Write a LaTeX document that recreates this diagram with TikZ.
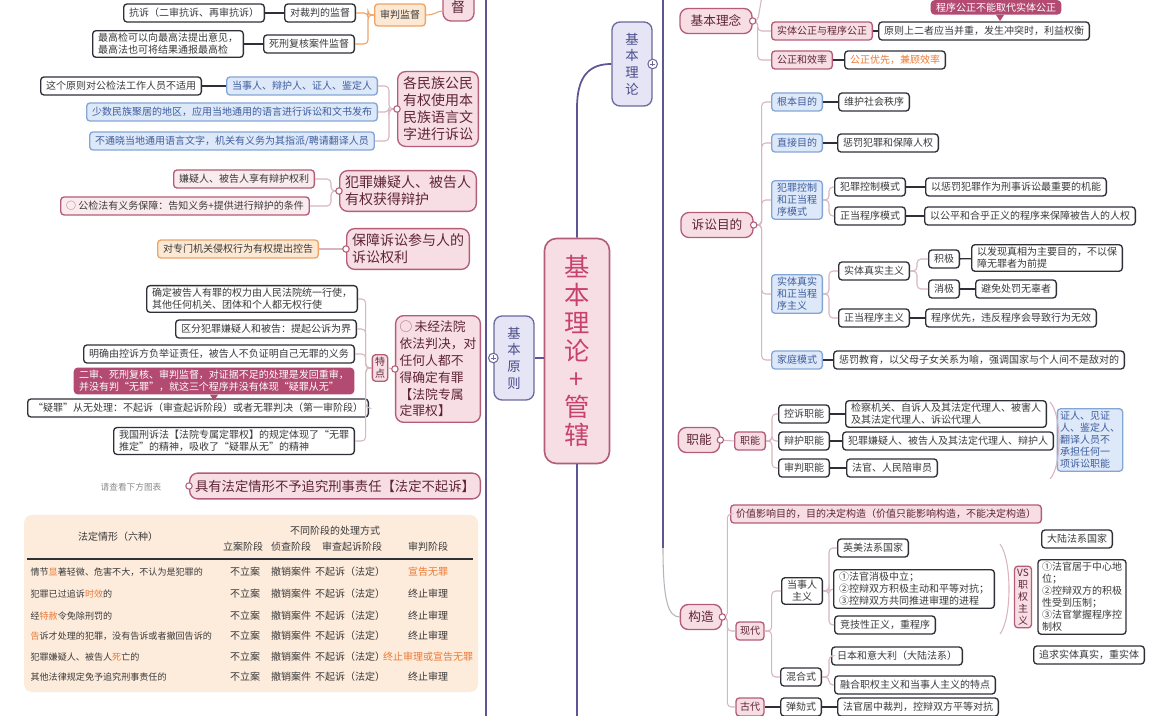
\documentclass[tikz,border=0pt]{standalone}
\usepackage{fontspec}
\setmainfont{Noto Sans CJK SC}
\usetikzlibrary{positioning,calc}
\XeTeXlinebreaklocale "zh"

\definecolor{framecol}{HTML}{5C5794}
\definecolor{pinkfill}{HTML}{F7DEE4}
\definecolor{pinkline}{HTML}{B45C78}
\definecolor{pinktext}{HTML}{5E2436}
\definecolor{roottext}{HTML}{C7426C}
\definecolor{leafline}{HTML}{2F2F38}
\definecolor{leaftext}{HTML}{3A3A3A}
\definecolor{bluefill}{HTML}{DDE8F8}
\definecolor{blueline}{HTML}{84A6D6}
\definecolor{bluetext}{HTML}{3F5E9E}
\definecolor{orfill}{HTML}{FDE8D3}
\definecolor{orline}{HTML}{EFA466}
\definecolor{ortext}{HTML}{EB7A34}
\definecolor{purfill}{HTML}{E5E5F5}
\definecolor{purline}{HTML}{6A6A9C}
\definecolor{purtext}{HTML}{4B4B8C}
\definecolor{magfill}{HTML}{B24A71}
\definecolor{linkcol}{HTML}{D8B6C0}
\definecolor{greycol}{HTML}{B4B4BC}
\definecolor{tabfill}{HTML}{FDEBDC}
\definecolor{notecol}{HTML}{8A8A8A}

\newcommand{\smallfs}{\fontsize{7.5}{9}\selectfont}
\newcommand{\bigfs}{\fontsize{10.5}{12.8}\selectfont}
\newcommand{\topfs}{\fontsize{9.5}{11}\selectfont}
\newcommand{\rootfs}{\fontsize{19}{21}\selectfont}
\newcommand{\vertfs}{\fontsize{10}{12.5}\selectfont}
\newcommand{\hlchar}[1]{\textcolor{ortext}{#1}}
\newcommand{\pinkdot}[1]{\filldraw[draw=pinkline,fill=white,line width=0.8pt] (#1) circle (2.4pt);}

\begin{document}
\begin{tikzpicture}[x=0.75pt,y=-0.75pt,
  leaf/.style={draw=leafline,line width=1pt,fill=white,rounded corners=2.5pt,text=leaftext,
    font=\smallfs,inner xsep=4pt,inner ysep=2pt,minimum height=13.5pt,align=left},
  pinkleaf/.style={leaf,draw=pinkline,fill=pinkfill!60},
  bluebox/.style={leaf,draw=blueline,fill=bluefill,text=bluetext},
  orbox/.style={leaf,draw=orline,fill=orfill},
  pinksub/.style={leaf,draw=pinkline,fill=pinkfill,text=pinktext},
  topic/.style={draw=pinkline,line width=1pt,fill=pinkfill,rounded corners=6pt,text=pinktext,
    font=\bigfs,inner sep=4pt,align=left},
  mtopic/.style={topic,font=\topfs,minimum height=18.75pt,inner xsep=8pt},
  note/.style={fill=magfill,text=white,rounded corners=3pt,font=\smallfs,inner xsep=4pt,
    inner ysep=2pt,align=left},
  purbox/.style={draw=purline,line width=1pt,fill=purfill,rounded corners=6pt,text=purtext,
    font=\vertfs,align=center,minimum width=30pt,minimum height=63pt},
  rootbox/.style={draw=pinkline,line width=1.2pt,fill=pinkfill,rounded corners=9pt,text=roottext,
    font=\rootfs,align=center,minimum width=48.75pt,minimum height=168.75pt},
  link/.style={draw=leafline,line width=1pt},
  brk/.style={draw=linkcol,line width=0.8pt,rounded corners=3pt},
  orbrk/.style={brk,draw=orline},
  mainlink/.style={draw=framecol,line width=1.3pt},
  cell/.style={font=\smallfs,text=leaftext,inner sep=1pt}
]
\useasboundingbox[fill=white] (0,0) rectangle (1154,716);

% frames and root
\draw[mainlink] (486,0) -- (486,716);
\coordinate (frtop) at (663,0);
\coordinate (frbend) at (663,548);
\draw[mainlink] (frtop) -- (frbend);

\node[rootbox] (root) at (577,351) {基\\本\\理\\论\\+\\管\\辖};
\node[purbox] (lilun) at (632,64) {基\\本\\理\\论};
\node[purbox] (yuanze) at (514,358) {基\\本\\原\\则};
\coordinate (bend) at (577,108);
\coordinate (rootdown) at (577,720);
\draw[mainlink] (root.north) -- (bend) .. controls (577,75) and (590,64) .. (lilun.west);
\draw[mainlink] (root.south) -- (rootdown);
\draw[mainlink] (yuanze.east) -- (yuanze.east -| root.west);
\foreach \p in {lilun.east,yuanze.west}{
  \filldraw[draw=purline,fill=white,line width=0.8pt] (\p) circle (3.6pt);
  \draw[purline,line width=0.6pt] (\p) ++(-2.5,0) -- ++(5,0) (\p) ++(0,-2.5) -- ++(0,5);
}

% left: supervision
\node[leaf] (kangsu) at (194,13) {抗诉（二审抗诉、再审抗诉）};
\node[leaf] (caipan) at (320,13) {对裁判的监督};
\node[leaf] (gaojian) at (168,44) {最高检可以向最高法提出意见，\\最高法也可将结果通报最高检};
\node[leaf] (sixing) at (309,44) {死刑复核案件监督};
\node[orbox,minimum height=16.5pt] (shenpan) at (400,15) {审判监督};
\filldraw[draw=pinkline,fill=pinkfill,line width=1pt,rounded corners=6pt] (443,-30) rectangle (474,21);
\node[text=pinktext,font=\bigfs] (jiandu) at (458,7) {督};
\coordinate (jianduin) at (443,11);
\draw[link] (kangsu) -- (caipan);
\draw[link] (gaojian) -- (sixing);
\foreach \c in {caipan,sixing}
  \draw[orbrk] (shenpan.west) -- ++(-6,0) |- (\c.east);
\draw[orbrk] (shenpan.east) .. controls (436,15) and (436,11) .. (jianduin);

% left: language
\node[topic] (minzu) at (438,109) {各民族公民\\有权使用本\\民族语言文\\字进行诉讼};
\node[bluebox] (dangshi) at (302,86) {当事人、辩护人、证人、鉴定人};
\node[leaf] (buyong) at (121,86) {这个原则对公检法工作人员不适用};
\node[bluebox] (shaoshu) at (232,112) {少数民族聚居的地区，应用当地通用的语言进行诉讼和文书发布};
\node[bluebox] (fanyi) at (232,141) {不通晓当地通用语言文字，机关有义务为其指派/聘请翻译人员};
\draw[link] (dangshi) -- (buyong);
\foreach \c in {dangshi,shaoshu,fanyi}
  \draw[brk] (minzu.west) -- ++(-8,0) |- (\c.east);
\pinkdot{minzu.west}

% left: defence
\node[topic] (bianhu) at (408,191) {犯罪嫌疑人、被告人\\有权获得辩护};
\node[pinkleaf] (xiangyou) at (244,179) {嫌疑人、被告人享有辩护权利};
\node[pinkleaf] (baozhang) at (185,206) {\textcolor{pinkline}{○}\ 公检法有义务保障：告知义务+提供进行辩护的条件};
\foreach \c in {xiangyou,baozhang}
  \draw[brk] (bianhu.west) -- ++(-8,0) |- (\c.east);
\pinkdot{bianhu.west}

% left: participants
\node[topic] (canyu) at (408,249) {保障诉讼参与人的\\诉讼权利};
\node[orbox] (konggao) at (238,249) {对专门机关侵权行为有权提出控告};
\draw[brk] (canyu.west) -- (konggao.east);
\pinkdot{canyu.west}

% left: court decides guilt
\node[topic,font=\fontsize{9.6}{12.6}\selectfont,inner xsep=3pt] (wuzui) at (438,369) {\textcolor{pinkline}{○}\,未经法院\\依法判决，对\\任何人都不\\得确定有罪\\【法院专属\\定罪权】};
\node[pinksub,inner xsep=2pt,align=center] (tedian) at (380,368) {特\\点};
\node[leaf] (quanli) at (252,299) {确定被告人有罪的权力由人民法院统一行使，\\其他任何机关、团体和个人都无权行使};
\node[leaf] (qufen) at (266,329) {区分犯罪嫌疑人和被告：提起公诉为界};
\node[leaf] (juzheng) at (219,354) {明确由控诉方负举证责任，被告人不负证明自己无罪的义务};
\node[leaf] (yizui) at (198,408) {“疑罪”从无处理：不起诉（审查起诉阶段）或者无罪判决（第一审阶段）};
\node[leaf] (jingshen) at (234,441) {我国刑诉法【法院专属定罪权】的规定体现了“无罪\\推定”的精神，吸收了“疑罪从无”的精神};
\node[note] (ershen) at (214,381) {二审、死刑复核、审判监督，对证据不足的处理是发回重审，\\并没有判“无罪”，就这三个程序并没有体现“疑罪从无”};
\fill[magfill] ($(ershen.south)+(-4,0)$) -- ++(8,0) -- ++(-4,6) -- cycle;
\foreach \c in {quanli,qufen,juzheng,yizui,jingshen}
  \draw[brk] (tedian.west) -- ++(-6,0) |- (\c.east);
\draw[brk] (wuzui.west) -- (tedian.east);
\pinkdot{wuzui.west}

% left: statutory non-prosecution
\node[topic,font=\fontsize{10}{12}\selectfont,inner ysep=5pt] (fading) at (335,486) {具有法定情形不予追究刑事责任【法定不起诉】};
\node[font=\fontsize{6.5}{8}\selectfont,text=notecol] (chakan) at (131,487) {请查看下方图表};
\pinkdot{fading.west}

% table
\fill[tabfill,rounded corners=6pt] (24,515) rectangle (478,692);
\node[cell] (th1) at (118,537) {法定情形（六种）};
\node[cell] (th2) at (335,531) {不同阶段的处理方式};
\foreach \h/\x [count=\k] in {立案阶段/243,侦查阶段/291,审查起诉阶段/352,审判阶段/428}
  \node[cell] (tc\k) at (\x,547) {\h};
\draw[leafline,line width=1pt] (27,559) -- (473,559);
\foreach \r/\e/\yy [count=\i] in {
  {情节\hlchar{显}著轻微、危害不大，不认为是犯罪的}/{\hlchar{宣告无罪}}/572,
  {犯罪已过追诉\hlchar{时效}的}/{终止审理}/594,
  {经\hlchar{特赦}令免除刑罚的}/{终止审理}/616,
  {\hlchar{告}诉才处理的犯罪，没有告诉或者撤回告诉的}/{终止审理}/636,
  {犯罪嫌疑人、被告人\hlchar{死}亡的}/{\hlchar{终止审理或宣告无罪}}/657,
  {其他法律规定免予追究刑事责任的}/{终止审理}/677}{
  \node[cell,anchor=west,font=\fontsize{6.8}{8}\selectfont] (rn\i) at (29,\yy) {\r};
  \node[cell] (ra\i) at (245,\yy) {不立案};
  \node[cell] (rb\i) at (291,\yy) {撤销案件};
  \node[cell] (rc\i) at (350,\yy) {不起诉（法定）};
  \node[cell] (rd\i) at (428,\yy) {\e};
}

% right: ideas
\node[mtopic] (linian) at (716,21) {基本理念};
\node[pinksub] (shiti) at (822,31) {实体公正与程序公正};
\node[leaf] (yuanzeq) at (984,31) {原则上二者应当并重，发生冲突时，利益权衡};
\node[pinksub] (gongzheng) at (802,60) {公正和效率};
\node[leaf,text=ortext] (youxian) at (895,60) {公正优先，兼顾效率};
\node[note,anchor=south] (chengxu) at (996,15) {程序公正不能取代实体公正};
\fill[magfill] ($(chengxu.south)+(0,0)$) -- ++(8,0) -- ++(-4,6) -- cycle;
\coordinate (linianup) at (762,-4);
\draw[brk] (linian.east) -- ++(5,0) -- (linianup);
\foreach \c in {shiti,gongzheng}
  \draw[brk] (linian.east) -- ++(5,0) |- (\c.west);
\draw[link] (shiti) -- (yuanzeq);
\draw[link] (gongzheng) -- (youxian);
\pinkdot{linian.east}

% right: aims
\node[mtopic] (mudi) at (717,225) {诉讼目的};
\node[bluebox] (genben) at (797,102) {根本目的};
\node[leaf] (genbend) at (874,102) {维护社会秩序};
\node[bluebox] (zhijie) at (797,143) {直接目的};
\node[leaf] (zhijied) at (888,143) {惩罚犯罪和保障人权};
\node[bluebox] (kongzhi) at (797,200) {犯罪控制\\和正当程\\序模式};
\node[leaf] (kzms) at (870,187) {犯罪控制模式};
\node[leaf] (kzmsd) at (1016,187) {以惩罚犯罪作为刑事诉讼最重要的机能};
\node[leaf] (zdms) at (870,216) {正当程序模式};
\node[leaf] (zdmsd) at (1030,216) {以公平和合乎正义的程序来保障被告人的人权};
\node[bluebox] (zhenshi) at (797,294) {实体真实\\和正当程\\序主义};
\node[leaf] (stzy) at (874,271) {实体真实主义};
\node[leaf] (jiji) at (944,259) {积极};
\node[leaf] (jijid) at (1047,258) {以发现真相为主要目的，不以保\\障无罪者为前提};
\node[leaf] (xiaoji) at (944,289) {消极};
\node[leaf] (xiaojid) at (1016,289) {避免处罚无辜者};
\node[leaf] (zdzy) at (874,318) {正当程序主义};
\node[leaf] (zdzyd) at (1011,318) {程序优先，违反程序会导致行为无效};
\node[bluebox] (jiating) at (797,360) {家庭模式};
\node[leaf] (jiatingd) at (979,360) {惩罚教育，以父母子女关系为喻，强调国家与个人间不是敌对的};
\foreach \c in {genben,zhijie,kongzhi,zhenshi,jiating}
  \draw[brk] (mudi.east) -- ++(8,0) |- (\c.west);
\foreach \c in {kzms,zdms}
  \draw[brk] (kongzhi.east) -- ++(6,0) |- (\c.west);
\foreach \c in {stzy,zdzy}
  \draw[brk] (zhenshi.east) -- ++(6,0) |- (\c.west);
\foreach \c in {jiji,xiaoji}
  \draw[brk] (stzy.east) -- ++(7,0) |- (\c.west);
\draw[link] (genben) -- (genbend);
\draw[link] (zhijie) -- (zhijied);
\draw[link] (kzms) -- (kzmsd);
\draw[link] (zdms) -- (zdmsd);
\draw[link] (jiji) -- (jijid);
\draw[link] (xiaoji) -- (xiaojid);
\draw[link] (zdzy) -- (zdzyd);
\draw[link] (jiating) -- (jiatingd);
\pinkdot{mudi.east}

% right: functions
\node[mtopic,inner xsep=6pt] (zhineng) at (699,440) {职能};
\node[pinksub] (znsub) at (750,441) {职能};
\node[leaf] (kongsu) at (804,414) {控诉职能};
\node[leaf] (kongsud) at (946,414) {检察机关、自诉人及其法定代理人、被害人\\及其法定代理人、诉讼代理人};
\node[leaf] (bianhuzn) at (804,441) {辩护职能};
\node[leaf] (bianhud) at (948,441) {犯罪嫌疑人、被告人及其法定代理人、辩护人};
\node[leaf] (shenpanzn) at (804,468) {审判职能};
\node[leaf] (shenpand) at (892,468) {法官、人民陪审员};
\node[bluebox,inner xsep=2pt] (zhengren) at (1090,440) {证人、见证\\人、鉴定人、\\翻译人员不\\承担任何一\\项诉讼职能};
\draw[brk] (zhineng.east) -- (znsub.west);
\foreach \c in {kongsu,bianhuzn,shenpanzn}
  \draw[brk] (znsub.east) -- ++(6,0) |- (\c.west);
\draw[link] (kongsu) -- (kongsud);
\draw[link] (bianhuzn) -- (bianhud);
\draw[link] (shenpanzn) -- (shenpand);
\draw[brk] (1050,402) .. controls (1062,415) and (1062,466) .. (1050,479);
\pinkdot{zhineng.east}

% right: structure
\node[mtopic,inner xsep=6pt] (gouzao) at (701,617) {构造};
\node[pinksub] (jiazhi) at (886,514) {价值影响目的，目的决定构造（价值只能影响构造，不能决定构造）};
\node[pinksub,inner xsep=3pt] (xiandai) at (750,631) {现代};
\node[leaf,align=center] (dsr) at (802,591) {当事人\\主义};
\node[leaf] (yingmei) at (873,548) {英美法系国家};
\node[leaf] (tezheng) at (914,589) {①法官消极中立；\\②控辩双方积极主动和平等对抗；\\③控辩双方共同推进审理的进程};
\node[leaf] (jingji) at (885,625) {竞技性正义，重程序};
\node[pinksub,inner xsep=2pt,align=center] (vs) at (1023,597) {VS\\职\\权\\主\\义};
\node[leaf] (dalu) at (1077,539) {大陆法系国家};
\node[leaf,inner xsep=3pt] (zqtz) at (1082,597) {①法官居于中心地\\位；\\②控辩双方的积极\\性受到压制；\\③法官掌握程序控\\制权};
\node[leaf] (zhuiqiu) at (1089,655) {追求实体真实，重实体};
\node[leaf] (hunhe) at (801,677) {混合式};
\node[leaf] (riben) at (897,656) {日本和意大利（大陆法系）};
\node[leaf] (ronghe) at (915,685) {融合职权主义和当事人主义的特点};
\node[pinksub,inner xsep=3pt] (gudai) at (750,707) {古代};
\node[leaf] (tanhe) at (801,707) {弹劾式};
\node[leaf] (tanhed) at (918,707) {法官居中裁判，控辩双方平等对抗};
\foreach \c in {jiazhi,xiandai,gudai}
  \draw[brk] (gouzao.east) -- ++(5,0) |- (\c.west);
\foreach \c in {dsr,hunhe}
  \draw[brk] (xiandai.east) -- ++(7,0) |- (\c.west);
\foreach \c in {yingmei,tezheng,jingji}
  \draw[brk] (dsr.east) -- ++(6,0) |- (\c.west);
\foreach \c in {riben,ronghe}
  \draw[brk] (hunhe.east) -- ++(7,0) |- (\c.west);
\draw[link] (gudai) -- (tanhe);
\draw[link] (tanhe) -- (tanhed);
\draw[brk] (1000,544) .. controls (1012,560) and (1012,618) .. (1000,634);
\draw[brk,draw=greycol] (frbend) .. controls (663,600) and (668,617) .. (gouzao.west);
\pinkdot{gouzao.east}
\end{tikzpicture}
\end{document}
